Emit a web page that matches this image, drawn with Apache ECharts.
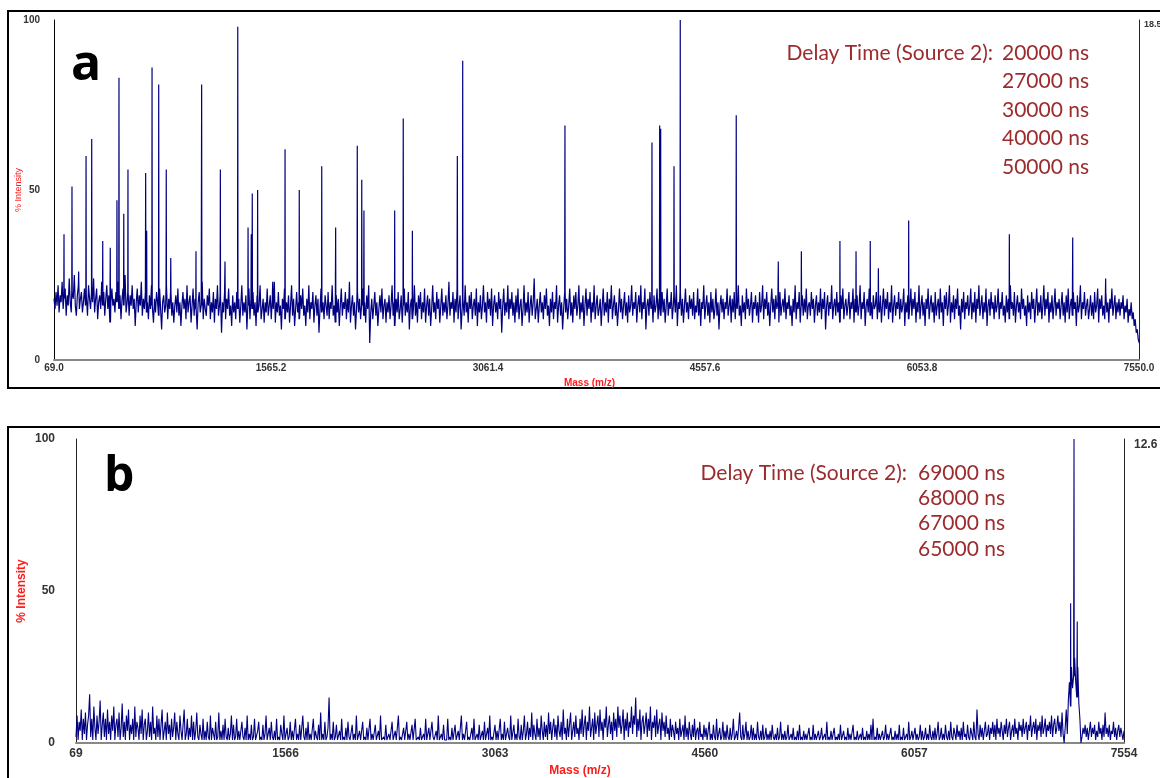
<!DOCTYPE html>
<html>
<head>
<meta charset="utf-8">
<script src="https://cdn.jsdelivr.net/npm/echarts@6/dist/echarts.min.js"></script>
<style>
html,body{margin:0;padding:0;background:#fff;}
#c{width:1160px;height:778px;}
</style>
</head>
<body>
<div id="c"></div>
<script>
// ---------- data ----------
const ticksA = [69.0, 1565.2, 3061.4, 4557.6, 6053.8, 7550.0];
const ticksB = [69, 1566, 3063, 4560, 6057, 7554];
const yTicks = [0, 50, 100];
const rightScaleA = 18.5;
const rightScaleB = 12.6;

// spectrum a: baseline noise sampled every 7 m/z from 69
const noiseStartA = 69, noiseStepA = 7;
const noiseA = [
18,15,20,16,22,14,19,17,23,15,18,21,13,19,16,24,17,14,20,18,25,16,13,19,22,15,18,20,14,17,
21,16,19,13,22,18,15,20,17,24,14,18,21,12,17,19,15,23,16,20,13,18,22,15,19,11,17,21,16,18,
14,20,17,23,15,19,12,18,21,16,25,14,17,20,13,19,16,22,15,18,10,17,21,14,19,16,23,13,18,15,
20,14,17,12,19,15,22,16,11,18,14,20,17,13,21,15,9,17,19,14,16,22,12,18,15,20,13,17,11,16,
19,14,21,13,17,10,16,20,15,18,12,22,14,17,19,11,16,21,13,18,15,9,17,20,14,16,23,12,18,15,
13,19,16,21,12,17,14,20,11,18,15,22,13,16,19,8,17,14,20,12,18,15,21,13,16,10,19,14,17,12,
20,15,18,11,16,22,13,17,14,19,9,16,21,12,18,15,20,13,17,10,19,14,16,22,12,15,18,11,17,14,
21,13,16,19,12,18,15,23,11,17,14,20,13,16,9,18,15,21,12,17,14,19,11,16,22,13,18,10,15,20,
14,17,12,19,15,21,13,16,10,18,14,22,12,17,15,20,11,16,19,13,18,8,15,21,14,17,12,19,16,13,
20,12,17,15,22,13,16,11,19,14,18,10,16,21,13,17,15,20,12,18,14,23,11,16,19,13,17,9,15,20,
14,18,12,16,21,13,17,11,19,15,22,5,14,18,12,16,20,13,17,10,15,19,14,21,12,16,18,11,17,14,
19,12,16,22,13,17,10,18,14,20,12,15,19,11,16,21,13,17,14,20,9,16,18,12,15,22,13,17,11,19,
15,20,12,17,14,21,11,16,19,13,18,10,15,22,14,17,12,20,15,18,11,16,21,13,17,14,19,12,16,23,
13,17,15,20,11,18,14,21,12,16,19,9,15,18,13,22,14,17,11,19,15,20,12,16,18,13,21,10,17,14,
19,12,16,22,14,17,11,20,15,18,13,21,10,16,19,14,17,12,20,15,18,8,16,21,13,17,14,22,12,18,
15,20,13,17,11,19,14,21,12,16,18,10,15,22,13,17,14,20,11,16,19,13,17,24,12,15,18,11,16,20,
14,17,12,19,15,21,13,16,10,18,14,20,12,17,15,22,11,16,19,13,17,9,15,20,14,18,12,16,21,13,
17,11,19,15,20,13,16,22,12,17,14,19,10,16,21,13,18,15,20,11,17,14,22,12,16,19,13,15,18,10,
16,21,13,17,14,20,11,18,15,22,12,16,19,13,17,10,15,21,14,18,12,16,20,13,17,11,19,14,16,22,
13,17,15,20,11,16,19,14,22,12,17,15,21,9,16,18,13,20,15,17,11,19,14,16,21,12,18,15,13,20,
14,18,11,16,21,13,17,15,20,12,16,19,14,22,10,17,15,20,13,18,11,16,21,14,17,12,19,15,18,13,
20,12,16,14,21,13,18,10,17,15,22,12,16,19,13,17,11,20,14,18,12,15,21,13,17,9,16,19,14,18,
12,17,15,21,13,16,19,11,18,14,20,12,17,15,22,13,16,10,19,14,17,12,21,15,18,13,16,20,11,17,
15,19,13,17,11,20,14,16,22,12,18,15,20,13,17,10,16,21,14,18,12,19,15,17,11,20,13,16,18,14,
21,12,17,15,19,13,16,10,18,14,22,12,17,15,20,11,16,19,13,18,14,21,12,16,17,13,20,15,18,11,
16,19,13,17,14,21,12,18,15,20,9,16,19,13,17,15,22,12,16,18,13,20,14,17,11,19,15,21,12,16,
18,13,16,20,12,17,15,21,11,18,14,19,13,16,22,12,17,15,20,10,16,18,14,21,13,17,12,19,15,16,
20,12,17,14,19,11,16,21,13,18,15,20,12,17,14,22,11,16,19,13,17,15,20,12,18,14,16,21,10,17,
14,19,12,16,21,13,18,15,20,11,17,14,22,12,16,19,13,17,10,18,15,21,12,16,19,14,17,11,20,13,
16,18,12,21,14,17,10,19,15,20,13,16,22,11,17,14,19,12,18,15,21,13,16,9,18,14,20,12,17,15,
19,13,16,21,12,17,14,20,11,18,15,22,13,16,19,12,17,14,21,10,16,18,13,20,15,17,12,19,14,16,
21,12,17,15,20,13,16,11,19,14,18,12,22,15,17,13,20,11,16,19,14,17,12,21,15,18,13,16,10,19,
14,17,12,20,15,18,11,16,21,13,17,14,19,12,16,22,13,18,15,20,11,17,14,19,12,16,21,13,17,15,
18,12,16,20,13,17,11,19,14,21,12,16,18,13,20,15,17,10,19,14,16,22,12,17,15,20,13,16,18,12,
15,19,13,17,12,20,14,16,21,11,18,15,19,13,16,12,20,14,17,11,18,15,21,13,16,19,12,17,14,18,
13,17,15,19,12,16,14,18,11,15,13,17,12,14,10,12,8,9,6,5
];
const peakMassA = [138,193,239,290,329,405,457,503,517,550,579,701,708,745,791,843,874,1048,1087,1216,1248,1336,1407,1429,1436,1473,1577,1662,1760,1915,2011,2160,2191,2206,2418,2477,2540,2850,2887,3592,4192,4245,4252,4344,4387,4773,5063,5222,5488,5599,5697,5753,5962,6656,7093,7320];
const peakIntA  = [37,51,26,60,65,35,33,47,83,43,56,55,38,86,81,56,30,32,81,56,29,98,39,37,49,50,23,62,50,57,39,63,53,44,44,71,38,60,88,69,64,69,68,57,100,72,29,32,35,32,35,27,41,37,36,24];

// spectrum b: baseline noise sampled every 7.5 m/z from 69
const noiseStartB = 69, noiseStepB = 7.5;
const noiseB = [
2,9,1,7,4,11,1,8,3,10,1,6,9,16,2,8,1,12,5,1,9,3,7,14,1,6,10,2,8,1,
11,3,7,1,9,4,12,1,6,8,2,10,1,5,13,2,7,1,9,4,11,1,6,3,8,1,12,2,7,5,
1,9,3,11,1,6,8,1,4,10,2,7,1,12,3,5,1,9,2,8,1,6,11,1,4,7,1,10,3,6,
1,8,2,5,10,1,7,3,1,9,4,1,6,11,1,3,8,1,5,2,9,1,7,1,4,10,2,1,6,3,
1,8,1,4,1,7,2,1,9,1,5,3,1,7,1,2,10,1,4,1,6,1,8,2,1,5,1,3,9,1,
6,1,2,8,1,4,1,1,7,2,1,5,1,9,1,3,1,6,1,2,8,1,1,4,7,1,2,1,6,1,
3,9,1,1,5,1,7,2,1,4,1,8,1,2,1,6,3,1,9,1,1,5,1,2,7,1,4,1,1,8,
1,3,1,6,1,1,9,2,1,5,1,7,1,3,1,1,8,1,4,2,1,6,1,10,1,3,1,7,1,2,
5,15,1,3,1,7,1,2,6,1,1,4,1,8,1,2,1,5,1,7,2,1,1,6,1,3,1,9,1,1,
4,1,1,7,1,2,1,5,1,1,8,1,3,1,1,6,1,1,4,1,9,1,1,2,1,6,1,1,3,1,
1,7,1,1,4,1,1,9,1,2,1,1,5,1,1,7,1,3,1,1,6,1,1,8,1,1,2,1,5,1,
1,3,1,8,1,1,5,1,1,7,2,1,1,4,1,9,1,1,3,1,6,1,1,1,8,1,2,1,5,1,
1,6,1,1,4,1,1,9,1,3,1,1,7,1,2,1,1,5,1,8,1,1,3,1,6,1,1,4,1,7,
1,1,5,1,9,1,2,1,1,6,1,4,1,1,8,1,3,1,7,1,1,5,2,1,9,1,1,6,1,3,
1,8,2,1,6,1,4,9,1,3,7,1,5,2,10,1,6,3,1,8,2,5,1,9,4,1,7,2,6,1,
10,3,7,1,5,8,2,6,1,9,4,2,7,1,11,3,5,1,8,2,6,10,1,4,7,2,9,3,5,1,
8,3,11,2,6,9,1,7,4,12,2,5,8,1,10,3,6,9,2,11,4,7,1,8,5,12,2,6,9,3,
7,1,10,4,8,2,12,5,9,3,6,11,1,8,4,10,2,7,5,12,3,9,6,15,2,8,4,11,1,7,
9,3,6,10,2,8,4,12,1,7,5,9,2,11,3,6,8,1,10,4,7,2,9,3,5,1,8,2,6,4,
1,7,3,5,1,8,2,4,6,1,9,2,5,1,7,3,1,6,2,8,1,4,5,1,7,2,3,1,6,2,
5,1,4,7,1,3,1,6,2,1,8,1,3,5,1,2,7,1,4,1,6,2,1,5,1,3,8,1,2,4,
1,5,10,2,1,6,1,3,7,1,4,1,2,6,1,5,1,3,1,7,2,1,4,1,6,1,2,5,1,3,
1,4,1,6,2,1,3,1,5,1,2,7,1,3,1,4,1,2,6,1,1,3,1,5,1,2,1,4,1,6,
1,2,1,4,1,3,1,1,5,1,2,1,6,1,3,1,1,4,1,2,5,1,1,3,1,7,1,2,1,4,
1,1,5,1,2,1,3,1,6,1,1,4,1,2,1,5,1,3,1,1,6,1,2,1,4,1,1,3,1,5,
1,2,1,4,1,3,1,6,1,8,1,2,1,5,1,3,1,1,4,1,2,6,1,3,1,1,5,1,2,1,
4,1,3,1,6,1,2,1,5,1,1,3,1,7,1,2,4,1,1,5,1,3,1,2,6,1,4,1,2,5,
1,3,1,6,2,1,4,1,5,1,3,7,1,2,5,1,3,1,6,2,1,4,1,7,2,1,5,3,1,6,
2,4,1,5,1,7,2,3,1,6,2,1,5,3,1,7,2,1,11,3,1,6,2,5,1,4,7,2,3,6,
1,5,3,7,2,6,1,8,3,5,2,7,4,1,6,3,8,2,5,7,1,4,6,2,8,3,5,1,7,4,
6,2,8,3,5,7,1,6,4,9,2,5,7,3,8,1,6,4,7,2,9,3,5,8,2,6,4,7,3,9,
2,6,8,3,5,9,4,7,2,10,3,0,5,11,3,14,20,12,25,18,22,28,20,15,25,13,8,0,2,5,
3,6,2,5,1,4,7,2,5,3,6,1,4,2,7,3,5,1,6,2,10,3,5,2,6,1,4,3,7,2,
5,1,4,6,2,5,3,1,4
];
const peakMassB = [7173, 7197, 7220];
const peakIntB  = [46, 100, 40];

const delayLabel = "Delay Time (Source 2):";
const delayA = ["20000 ns", "27000 ns", "30000 ns", "40000 ns", "50000 ns"];
const delayB = ["69000 ns", "68000 ns", "67000 ns", "65000 ns"];

// ---------- build ----------
function buildSpectrum(start, step, noise, pm, pi, flank) {
  const pts = noise.map((v, i) => [start + i * step, v]);
  pm.forEach((m, k) => {
    let j = Math.round((m - start) / step);
    j = Math.max(0, Math.min(noise.length - 1, j));
    const base = noise[j];
    pts.push([m - flank, base], [m, pi[k]], [m + flank, base]);
  });
  pts.sort((a, b) => a[0] - b[0]);
  return pts;
}
const dataA = buildSpectrum(noiseStartA, noiseStepA, noiseA, peakMassA, peakIntA, 1.5);
const dataB = buildSpectrum(noiseStartB, noiseStepB, noiseB, peakMassB, peakIntB, 1.5);

const AX = '"Liberation Sans", Arial, sans-serif';
const TX = 'Lato, "Open Sans", sans-serif';
const red = '#9c2b2e';
const navy = '#000080';

function xAxisCfg(grid, min, max, ticks, fmt, fs, nameFs, gap, pad, margin) {
  return {
    gridIndex: grid, type: 'value', min: min, max: max,
    axisLine: { onZero: false, lineStyle: { color: '#888', width: 2 } },
    axisTick: { show: false }, splitLine: { show: false },
    axisLabel: { customValues: ticks, formatter: fmt, margin: margin, fontSize: fs, fontWeight: 'bold', color: '#333', fontFamily: AX },
    name: 'Mass (m/z)', nameLocation: 'middle', nameGap: gap, nameMoveOverlap: false,
    nameTextStyle: { color: '#ff1a1a', fontSize: nameFs, fontWeight: 'bold', fontFamily: AX, padding: pad }
  };
}
function yAxisCfg(grid, fs, margin, nameFs, nameBold, gap, color) {
  return {
    gridIndex: grid, type: 'value', min: 0, max: 100, interval: 50,
    axisLine: { show: true, onZero: false, lineStyle: { color: color, width: 1 } },
    axisTick: { show: false }, splitLine: { show: false },
    axisLabel: { customValues: yTicks, margin: margin, fontSize: fs, fontWeight: 'bold', color: '#333', fontFamily: AX },
    name: '% Intensity', nameLocation: 'middle', nameGap: gap, nameMoveOverlap: false,
    nameTextStyle: { color: '#ff1a1a', fontSize: nameFs, fontWeight: nameBold, fontFamily: AX }
  };
}
function rightAxisCfg(grid, maxv, fs, margin) {
  return {
    gridIndex: grid, type: 'value', position: 'right', min: 0, max: maxv,
    axisLine: { show: true, onZero: false, lineStyle: { color: '#222', width: 1 } },
    axisTick: { show: false }, splitLine: { show: false },
    axisLabel: { customValues: [maxv], verticalAlign: 'top', margin: margin, fontSize: fs, fontWeight: 'bold', color: '#333', fontFamily: AX }
  };
}

const graphics = [
  { type: 'rect', shape: { x: 8, y: 11, width: 1170, height: 377 }, style: { fill: 'none', stroke: '#000', lineWidth: 2 }, silent: true },
  { type: 'rect', shape: { x: 8, y: 427, width: 1170, height: 400 }, style: { fill: 'none', stroke: '#000', lineWidth: 2 }, silent: true },
  { type: 'text', x: 71, y: 66, style: { text: 'a', font: 'bold 50px "Open Sans", sans-serif', fill: '#000', textVerticalAlign: 'middle' } },
  { type: 'text', x: 104, y: 477, style: { text: 'b', font: 'bold 48px "Open Sans", sans-serif', fill: '#000', textVerticalAlign: 'middle' } },
  { type: 'text', x: 993, y: 53, style: { text: delayLabel, font: '21px ' + TX, fill: red, textAlign: 'right', textVerticalAlign: 'middle' } },
  { type: 'text', x: 907, y: 473, style: { text: delayLabel, font: '21px ' + TX, fill: red, textAlign: 'right', textVerticalAlign: 'middle' } }
];
delayA.forEach((t, i) => graphics.push({ type: 'text', x: 1002, y: 53 + i * 28.5, style: { text: t, font: '21px ' + TX, fill: red, textAlign: 'left', textVerticalAlign: 'middle' } }));
delayB.forEach((t, i) => graphics.push({ type: 'text', x: 918, y: 473 + i * 25.3, style: { text: t, font: '21px ' + TX, fill: red, textAlign: 'left', textVerticalAlign: 'middle' } }));

const option = {
  animation: false,
  backgroundColor: '#fff',
  grid: [
    { left: 54, top: 20, width: 1085, height: 340, containLabel: false, outerBoundsMode: 'none' },
    { left: 76, top: 439, width: 1048, height: 304, containLabel: false, outerBoundsMode: 'none' }
  ],
  xAxis: [
    xAxisCfg(0, 69, 7550, ticksA, v => Number(v).toFixed(1), 10, 10, 18, [0, 14, 0, 0], 3),
    xAxisCfg(1, 69, 7554, ticksB, v => String(Math.round(v)), 12, 12, 22, [0, 40, 0, 0], 5)
  ],
  yAxis: [
    yAxisCfg(0, 10, 14, 9, 'normal', 31, '#000'),
    rightAxisCfg(0, rightScaleA, 9, 5),
    yAxisCfg(1, 12, 21, 12, 'bold', 48, '#222'),
    rightAxisCfg(1, rightScaleB, 12, 10)
  ],
  series: [
    { type: 'line', xAxisIndex: 0, yAxisIndex: 0, data: dataA, symbol: 'none', showSymbol: false, clip: true, lineStyle: { color: navy, width: 1.2 } },
    { type: 'line', xAxisIndex: 1, yAxisIndex: 2, data: dataB, symbol: 'none', showSymbol: false, clip: true, lineStyle: { color: navy, width: 1.1 } }
  ],
  graphic: graphics
};
const chart = echarts.init(document.getElementById('c'), null, { renderer: 'canvas' });
chart.setOption(option);
</script>
</body>
</html>
